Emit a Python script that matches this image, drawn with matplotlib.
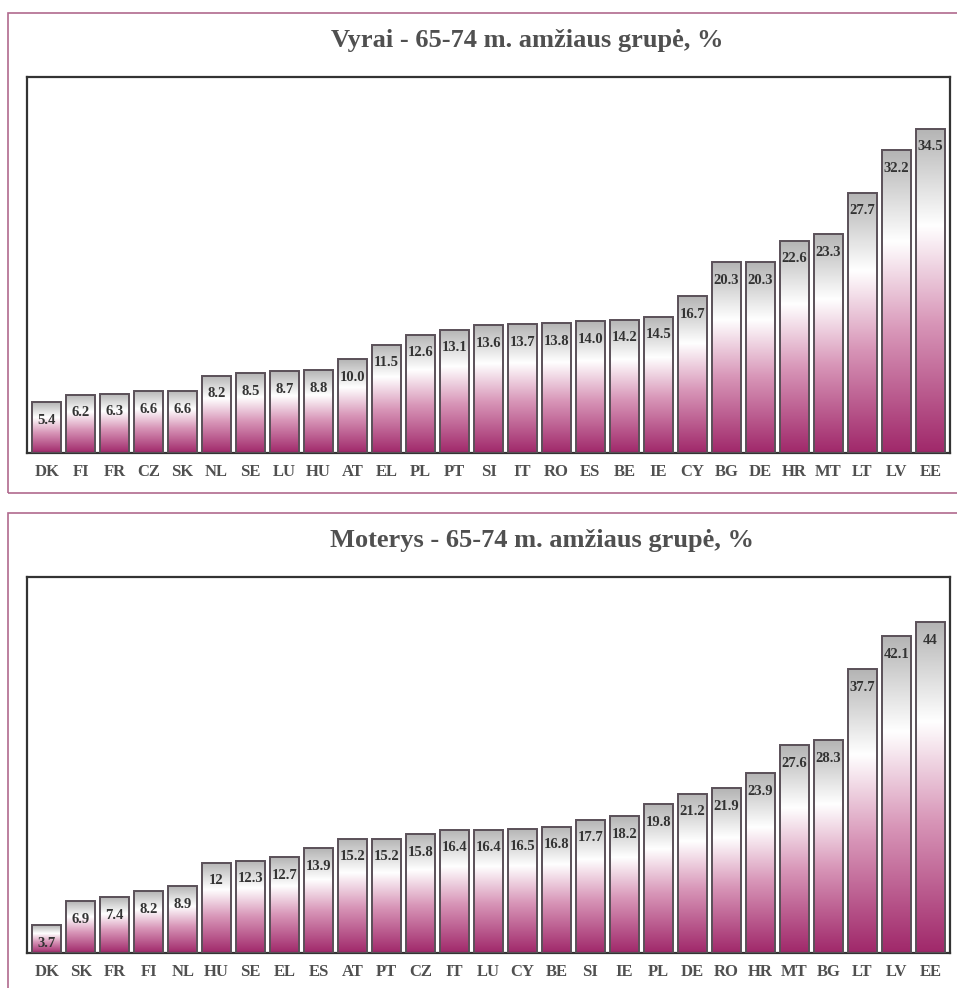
import numpy as np
import matplotlib
matplotlib.use('Agg')
import matplotlib.pyplot as plt
from matplotlib.colors import LinearSegmentedColormap
from matplotlib.patches import Rectangle

# DATA
men_countries = ['DK', 'FI', 'FR', 'CZ', 'SK', 'NL', 'SE', 'LU', 'HU', 'AT', 'EL', 'PL', 'PT', 'SI',
                 'IT', 'RO', 'ES', 'BE', 'IE', 'CY', 'BG', 'DE', 'HR', 'MT', 'LT', 'LV', 'EE']
men_values = [5.4, 6.2, 6.3, 6.6, 6.6, 8.2, 8.5, 8.7, 8.8, 10.0, 11.5, 12.6, 13.1, 13.6,
              13.7, 13.8, 14.0, 14.2, 14.5, 16.7, 20.3, 20.3, 22.6, 23.3, 27.7, 32.2, 34.5]
men_labels = ['5.4', '6.2', '6.3', '6.6', '6.6', '8.2', '8.5', '8.7', '8.8', '10.0', '11.5', '12.6', '13.1', '13.6',
              '13.7', '13.8', '14.0', '14.2', '14.5', '16.7', '20.3', '20.3', '22.6', '23.3', '27.7', '32.2', '34.5']

women_countries = ['DK', 'SK', 'FR', 'FI', 'NL', 'HU', 'SE', 'EL', 'ES', 'AT', 'PT', 'CZ', 'IT', 'LU',
                   'CY', 'BE', 'SI', 'IE', 'PL', 'DE', 'RO', 'HR', 'MT', 'BG', 'LT', 'LV', 'EE']
women_values = [3.7, 6.9, 7.4, 8.2, 8.9, 12, 12.3, 12.7, 13.9, 15.2, 15.2, 15.8, 16.4, 16.4,
                16.5, 16.8, 17.7, 18.2, 19.8, 21.2, 21.9, 23.9, 27.6, 28.3, 37.7, 42.1, 44]
women_labels = ['3.7', '6.9', '7.4', '8.2', '8.9', '12', '12.3', '12.7', '13.9', '15.2', '15.2', '15.8', '16.4', '16.4',
                '16.5', '16.8', '17.7', '18.2', '19.8', '21.2', '21.9', '23.9', '27.6', '28.3', '37.7', '42.1', '44']

serif = 'Liberation Serif'
grad = LinearSegmentedColormap.from_list(
    'bar', [(0.0, '#a0286a'), (0.4, '#d896b8'), (0.7, '#ffffff'), (1.0, '#b4b4b4')])
gimg = np.linspace(0, 1, 256).reshape(-1, 1)

fig = plt.figure(figsize=(9.57, 9.88), dpi=100)
W, H = 957.0, 988.0

# panel frames
fig.patches.append(Rectangle((8 / W, 1 - 493 / H), 960 / W, 480 / H, transform=fig.transFigure,
                             fill=False, edgecolor='#b06a8e', linewidth=1.2))
fig.patches.append(Rectangle((8 / W, 1 - 1000 / H), 960 / W, 487 / H, transform=fig.transFigure,
                             fill=False, edgecolor='#b06a8e', linewidth=1.2))


def draw_panel(rect, countries, values, labels, ymax, title, title_xy):
    ax = fig.add_axes(rect)
    x = np.arange(len(countries))
    bars = ax.bar(x, values, width=0.84, color='none', edgecolor='#5a5058', linewidth=1.4, zorder=3)
    for b in bars:
        bx, by = b.get_x(), b.get_y()
        bw, bh = b.get_width(), b.get_height()
        im = ax.imshow(gimg, cmap=grad, origin='lower', aspect='auto',
                       extent=[bx, bx + bw, by, by + bh], zorder=2)
        im.set_clip_path(b)
    for xi, v, lab in zip(x, values, labels):
        ax.annotate(lab, (xi, v), xytext=(0, -13), textcoords='offset points',
                    ha='center', va='center', fontsize=10.5, fontweight='bold',
                    family=serif, color='#333333', zorder=4)
    ax.set_xlim(-0.58, len(countries) - 0.42)
    ax.set_ylim(0, ymax)
    ax.set_xticks(x)
    ax.set_xticklabels(countries, fontsize=12, fontweight='bold', family=serif, color='#505050')
    ax.tick_params(axis='x', length=0, pad=8)
    ax.set_yticks([])
    for s in ax.spines.values():
        s.set_color('#333333')
        s.set_linewidth(1.6)
    fig.text(title_xy[0] / W, 1 - title_xy[1] / H, title, ha='center', va='center',
             fontsize=19, fontweight='bold', family=serif, color='#505050')
    return ax


draw_panel([27 / W, 1 - 453 / H, 923 / W, 376 / H], men_countries, men_values, men_labels, 40,
           'Vyrai - 65-74 m. amžiaus grupė, %', (527, 40))
draw_panel([27 / W, 1 - 953 / H, 923 / W, 376 / H], women_countries, women_values, women_labels, 50,
           'Moterys - 65-74 m. amžiaus grupė, %', (542, 540))

plt.savefig('out.png', dpi=100)
